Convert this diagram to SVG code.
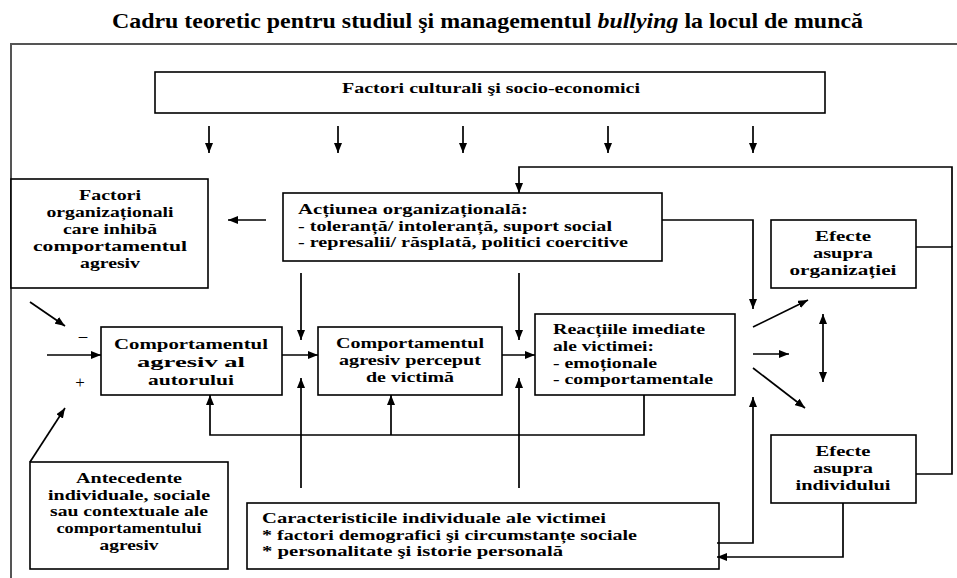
<svg xmlns="http://www.w3.org/2000/svg" width="957" height="578" viewBox="0 0 957 578">
<defs>
<marker id="ah" viewBox="0 0 10 8" refX="10" refY="4" markerWidth="10" markerHeight="8" markerUnits="userSpaceOnUse" orient="auto-start-reverse">
<path d="M0,0 L10,4 L0,8 Z" fill="#000"/>
</marker>
<style>
.box{fill:#fff;stroke:#000;stroke-width:1.6}
.t{font-weight:bold;font-size:15.5px;fill:#000}
.c{text-anchor:middle}
.ln{fill:none;stroke:#000;stroke-width:1.7}
.ar{fill:none;stroke:#000;stroke-width:1.7;marker-end:url(#ah)}
</style>
</defs>
<rect width="957" height="578" fill="#fff"/>
<path d="M11,578 L11,44 L957,44" fill="none" stroke="#555" stroke-width="2"/>
<g font-family="Liberation Serif, Times New Roman, serif">
<text x="112" y="28" font-weight="bold" font-size="21" fill="#000" textLength="751" lengthAdjust="spacingAndGlyphs">Cadru teoretic pentru studiul şi managementul <tspan font-style="italic">bullying</tspan> la locul de muncă</text>

<g id="culturali">
<rect class="box" x="155" y="72" width="670" height="41"/>
<text class="t c" x="491" y="93" textLength="298" lengthAdjust="spacingAndGlyphs">Factori culturali şi socio-economici</text>
</g>
<g id="factori-org">
<rect class="box" x="11" y="179" width="197" height="109"/>
<text class="t c" x="110" y="200" textLength="62" lengthAdjust="spacingAndGlyphs">Factori</text>
<text class="t c" x="110" y="217" textLength="127" lengthAdjust="spacingAndGlyphs">organizaționali</text>
<text class="t c" x="110" y="234" textLength="94" lengthAdjust="spacingAndGlyphs">care inhibă</text>
<text class="t c" x="110" y="251" textLength="154" lengthAdjust="spacingAndGlyphs">comportamentul</text>
<text class="t c" x="110" y="268" textLength="60" lengthAdjust="spacingAndGlyphs">agresiv</text>
</g>
<g id="actiunea">
<rect class="box" x="283" y="193" width="379" height="68"/>
<text class="t" x="298" y="214" textLength="230" lengthAdjust="spacingAndGlyphs">Acțiunea organizațională:</text>
<text class="t" x="298" y="231" textLength="314" lengthAdjust="spacingAndGlyphs">- toleranță/ intoleranță, suport social</text>
<text class="t" x="298" y="247" textLength="330" lengthAdjust="spacingAndGlyphs">- represalii/ răsplată, politici coercitive</text>
</g>
<g id="efecte-org">
<rect class="box" x="771" y="220" width="145" height="68"/>
<text class="t c" x="843" y="241" textLength="56" lengthAdjust="spacingAndGlyphs">Efecte</text>
<text class="t c" x="843" y="258" textLength="60" lengthAdjust="spacingAndGlyphs">asupra</text>
<text class="t c" x="843" y="275" textLength="107" lengthAdjust="spacingAndGlyphs">organizației</text>
</g>
<g id="autor">
<rect class="box" x="101" y="327" width="181" height="68"/>
<text class="t c" x="191" y="349" textLength="154" lengthAdjust="spacingAndGlyphs">Comportamentul</text>
<text class="t c" x="191" y="367" textLength="108" lengthAdjust="spacingAndGlyphs">agresiv al</text>
<text class="t c" x="191" y="385" textLength="86" lengthAdjust="spacingAndGlyphs">autorului</text>
</g>
<g id="perceput">
<rect class="box" x="318" y="327" width="184" height="68"/>
<text class="t c" x="410" y="348" textLength="148" lengthAdjust="spacingAndGlyphs">Comportamentul</text>
<text class="t c" x="410" y="365" textLength="142" lengthAdjust="spacingAndGlyphs">agresiv perceput</text>
<text class="t c" x="410" y="382" textLength="88" lengthAdjust="spacingAndGlyphs">de victimă</text>
</g>
<g id="reactii">
<rect class="box" x="535" y="314" width="200" height="81"/>
<text class="t" x="553" y="334" textLength="152" lengthAdjust="spacingAndGlyphs">Reacțiile imediate</text>
<text class="t" x="553" y="351" textLength="101" lengthAdjust="spacingAndGlyphs">ale victimei:</text>
<text class="t" x="553" y="368" textLength="104" lengthAdjust="spacingAndGlyphs">- emoționale</text>
<text class="t" x="553" y="384" textLength="160" lengthAdjust="spacingAndGlyphs">- comportamentale</text>
</g>
<g id="efecte-ind">
<rect class="box" x="771" y="435" width="145" height="68"/>
<text class="t c" x="843" y="456" textLength="55" lengthAdjust="spacingAndGlyphs">Efecte</text>
<text class="t c" x="843" y="473" textLength="60" lengthAdjust="spacingAndGlyphs">asupra</text>
<text class="t c" x="843" y="490" textLength="95" lengthAdjust="spacingAndGlyphs">individului</text>
</g>
<g id="antecedente">
<rect class="box" x="30" y="462" width="198" height="107"/>
<text class="t c" x="129" y="483" textLength="106" lengthAdjust="spacingAndGlyphs">Antecedente</text>
<text class="t c" x="129" y="500" textLength="162" lengthAdjust="spacingAndGlyphs">individuale, sociale</text>
<text class="t c" x="129" y="516" textLength="158" lengthAdjust="spacingAndGlyphs">sau contextuale ale</text>
<text class="t c" x="129" y="533" textLength="145" lengthAdjust="spacingAndGlyphs">comportamentului</text>
<text class="t c" x="129" y="550" textLength="59" lengthAdjust="spacingAndGlyphs">agresiv</text>
</g>
<g id="caracteristici">
<rect class="box" x="247" y="503" width="472" height="66"/>
<text class="t" x="262" y="523" textLength="344" lengthAdjust="spacingAndGlyphs">Caracteristicile individuale ale victimei</text>
<text class="t" x="262" y="540" textLength="375" lengthAdjust="spacingAndGlyphs">* factori demografici şi circumstanțe sociale</text>
<text class="t" x="262" y="556" textLength="301" lengthAdjust="spacingAndGlyphs">* personalitate şi istorie personală</text>
</g>
<text x="83" y="341" font-size="17" text-anchor="middle" fill="#000">–</text>
<text x="80" y="388" font-size="17" text-anchor="middle" fill="#000">+</text>
</g>

<g id="connectors">
<path class="ar" d="M209,126 L209,153"/>
<path class="ar" d="M338,126 L338,153"/>
<path class="ar" d="M463,126 L463,153"/>
<path class="ar" d="M608,126 L608,153"/>
<path class="ar" d="M753,126 L753,153"/>
<path class="ar" d="M266,220 L228,220"/>
<path class="ar" d="M952,247 L952,167 L519,167 L519,193"/>
<path class="ln" d="M916,247 L952,247 L952,474 L916,474"/>
<path class="ar" d="M662,220 L753,220 L753,309"/>
<path class="ar" d="M301,273 L301,340"/>
<path class="ar" d="M519,273 L519,340"/>
<path class="ar" d="M301,488 L301,378"/>
<path class="ar" d="M519,488 L519,378"/>
<path class="ar" d="M282,355 L318,355"/>
<path class="ar" d="M502,355 L535,355"/>
<path class="ar" d="M644,395 L644,435 L210,435 L210,395"/>
<path class="ar" d="M391,435 L391,395"/>
<path class="ar" d="M30,302 L65,326"/>
<path class="ar" d="M47,355 L101,355"/>
<path class="ar" d="M30,462 L65,408"/>
<path class="ar" d="M717,543 L753,543 L753,397"/>
<path class="ar" d="M843,503 L843,557 L717,557"/>
<path class="ar" d="M753,327 L808,300"/>
<path class="ar" d="M753,354 L789,354"/>
<path class="ar" d="M753,368 L805,408"/>
<path class="ar" d="M823,348 L823,314"/>
<path class="ar" d="M823,348 L823,382"/>
</g>
</svg>
